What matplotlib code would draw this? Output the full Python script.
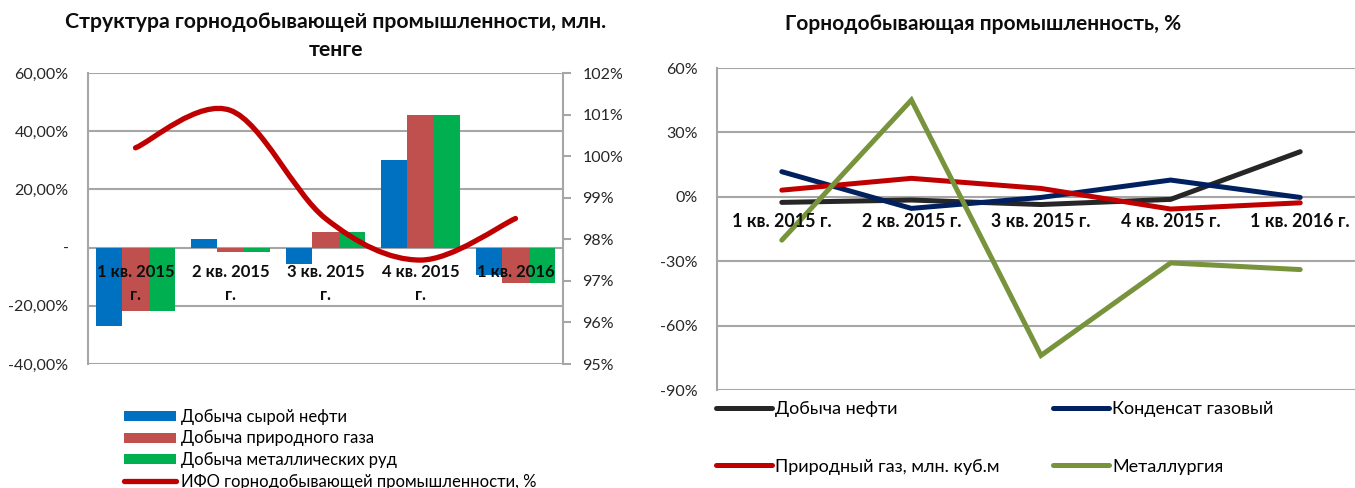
import matplotlib
matplotlib.use("Agg")
import matplotlib.pyplot as plt
from matplotlib.path import Path
from matplotlib.patches import PathPatch, Patch
from matplotlib.lines import Line2D
import numpy as np

plt.rcParams['font.family'] = ['Lato', 'DejaVu Sans']

# ---------------- data ----------------
left_title = "Структура горнодобывающей промышленности, млн.\nтенге"
right_title = "Горнодобывающая промышленность, %"

left_categories = ["1 кв. 2015\nг.", "2 кв. 2015\nг.", "3 кв. 2015\nг.", "4 кв. 2015\nг.", "1 кв. 2016"]
oil_crude = [-27.1, 3.0, -5.6, 30.0, -9.3]
gas_natural = [-21.9, -1.4, 5.3, 45.7, -12.2]
metal_ores = [-21.9, -1.4, 5.3, 45.7, -12.2]
ifo_mining = [100.2, 101.1, 98.5, 97.5, 98.5]

left_yticks = [-40, -20, 0, 20, 40, 60]
left_yticklabels = ["-40,00%", "-20,00%", "-", "20,00%", "40,00%", "60,00%"]
right2_yticks = [95, 96, 97, 98, 99, 100, 101, 102]
right2_yticklabels = ["95%", "96%", "97%", "98%", "99%", "100%", "101%", "102%"]

bar_labels = ["Добыча сырой нефти", "Добыча природного газа", "Добыча металлических руд"]
line_label = "ИФО горнодобывающей промышленности, %"

right_categories = ["1 кв. 2015 г.", "2 кв. 2015 г.", "3 кв. 2015 г.", "4 кв. 2015 г.", "1 кв. 2016 г."]
oil = [-2.6, -1.5, -3.6, -1.2, 21.0]
condensate = [11.7, -5.4, -0.3, 7.8, -0.3]
natgas = [3.1, 8.6, 3.9, -5.7, -2.8]
metallurgy = [-20.2, 45.1, -73.9, -30.8, -33.9]
right_labels = ["Добыча нефти", "Конденсат газовый", "Природный газ, млн. куб.м", "Металлургия"]
right_yticks = [-90, -60, -30, 0, 30, 60]
right_yticklabels = ["-90%", "-60%", "-30%", "0%", "30%", "60%"]

# ---------------- styles ----------------
W, H = 1355, 488
fig = plt.figure(figsize=(W / 100, H / 100), dpi=100)
grid_c = "#A6A6A6"
bar_colors = ["#0070C0", "#C0504D", "#00B050"]
ifo_color = "#C00000"
line_colors = ["#262626", "#002060", "#C00000", "#77933C"]

def fx(px):
    return px / W

def fy(py):
    return 1 - py / H

# ---------------- left chart ----------------
axL = fig.add_axes([fx(88), fy(364), fx(563 - 88), (364 - 73) / H])
x = np.arange(len(left_categories))
bw = 0.28
for i, (vals, c) in enumerate(zip([oil_crude, gas_natural, metal_ores], bar_colors)):
    axL.bar(x + (i - 1) * bw, vals, width=bw, color=c, zorder=2)
axL.set_xlim(-0.5, len(left_categories) - 0.5)
axL.set_ylim(-40, 60)
axL.set_yticks(left_yticks)
axL.set_yticklabels(left_yticklabels, fontsize=11.5, color="#262626")
axL.tick_params(axis='y', length=0, pad=14)
axL.set_xticks([])
for y in left_yticks:
    axL.axhline(y, color=grid_c, lw=1.5, zorder=1)
for s in ["top", "right", "bottom"]:
    axL.spines[s].set_visible(False)
axL.spines["left"].set_color(grid_c)
axL.spines["left"].set_linewidth(1.5)
for xi, lab in zip(x, left_categories):
    axL.text(xi, -5.5, lab, ha='center', va='top', fontsize=12, fontweight='bold',
             color="#0D0D0D", linespacing=1.6, zorder=5)

axR = axL.twinx()
axR.set_ylim(95, 102)
axR.set_yticks(right2_yticks)
axR.set_yticklabels(right2_yticklabels, fontsize=11.5, color="#262626")
axR.tick_params(axis='y', length=6, width=1.5, color=grid_c, pad=8)
for s in ["top", "left", "bottom"]:
    axR.spines[s].set_visible(False)
axR.spines["right"].set_color(grid_c)
axR.spines["right"].set_linewidth(1.5)

# smoothed line (Excel-like Bezier through the data points)
pts = np.column_stack([x, ifo_mining]).astype(float)
verts = [pts[0]]
codes = [Path.MOVETO]
n = len(pts)
for i in range(n - 1):
    p0 = pts[max(i - 1, 0)]
    p1 = pts[i]
    p2 = pts[i + 1]
    p3 = pts[min(i + 2, n - 1)]
    c1 = p1 + (p2 - p0) / 6.0
    c2 = p2 - (p3 - p1) / 6.0
    verts += [c1, c2, p2]
    codes += [Path.CURVE4] * 3
axR.add_patch(PathPatch(Path(verts, codes), fill=False, edgecolor=ifo_color, lw=3.8,
                        capstyle='round', zorder=3))

fig.text(fx(336), fy(36), left_title, ha='center', va='center', fontsize=15.3,
         fontweight='bold', color="#0D0D0D", linespacing=1.45)

handlesL = [Patch(facecolor=c, edgecolor='none') for c in bar_colors]
handlesL.append(Line2D([], [], color=ifo_color, lw=3.8, solid_capstyle='round'))
legL = fig.legend(handlesL, bar_labels + [line_label], loc='upper left',
                  bbox_to_anchor=(fx(124), fy(409)), frameon=False, fontsize=12,
                  handlelength=3.1, handleheight=0.55, handletextpad=0.3,
                  labelspacing=0.33, borderpad=0, borderaxespad=0)

# ---------------- right chart ----------------
ax2 = fig.add_axes([fx(717), fy(390), (1365 - 717) / W, (390 - 68) / H])
xr = np.arange(len(right_categories))
for vals, c in zip([oil, condensate, natgas, metallurgy], line_colors):
    ax2.plot(xr, vals, color=c, lw=3.6, solid_capstyle='round', solid_joinstyle='miter', zorder=3)
ax2.set_xlim(-0.5, len(right_categories) - 0.5)
ax2.set_ylim(-90, 60)
ax2.set_yticks(right_yticks)
ax2.set_yticklabels(right_yticklabels, fontsize=11.5, color="#262626")
ax2.tick_params(axis='y', length=0, pad=14)
ax2.set_xticks([])
for y in right_yticks:
    ax2.axhline(y, color=grid_c, lw=1.5, zorder=1)
for s in ["top", "right", "bottom"]:
    ax2.spines[s].set_visible(False)
ax2.spines["left"].set_color(grid_c)
ax2.spines["left"].set_linewidth(1.5)
for xi, lab in zip(xr, right_categories):
    ax2.text(xi, -11.5, lab, ha='center', va='center', fontsize=12.8, fontweight='bold',
             color="#0D0D0D", zorder=5)

fig.text(fx(983), fy(24), right_title, ha='center', va='center', fontsize=15,
         fontweight='bold', color="#0D0D0D")

order = [0, 2, 1, 3]
handlesR = [Line2D([], [], color=line_colors[i], lw=3.6, solid_capstyle='round') for i in order]
labelsR = [right_labels[i] for i in order]
fig.legend(handlesR, labelsR, loc='upper left', ncol=2,
           bbox_to_anchor=(fx(716), fy(401)), frameon=False, fontsize=13,
           handlelength=3.1, handletextpad=0.15, labelspacing=2.3, columnspacing=3.0,
           borderpad=0, borderaxespad=0)

fig.savefig("out.png", dpi=100)
